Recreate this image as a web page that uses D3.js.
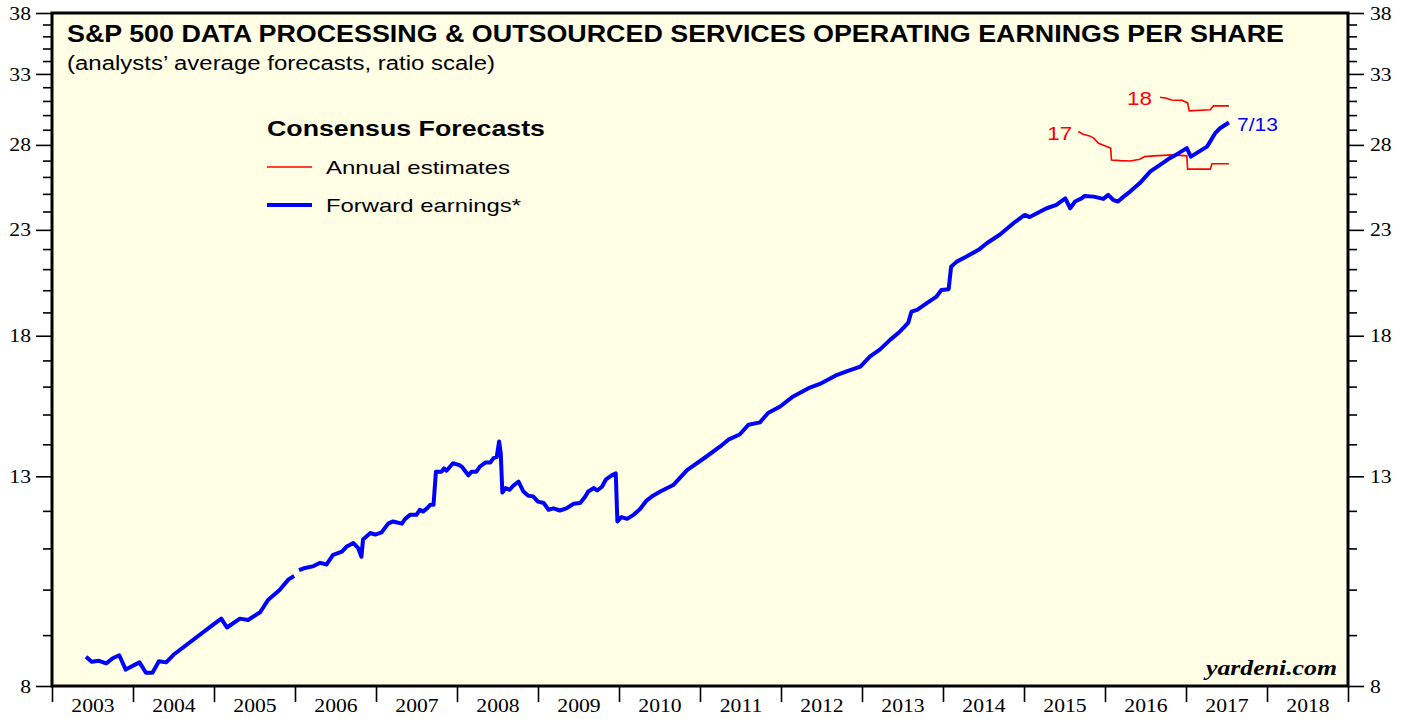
<!DOCTYPE html>
<html><head><meta charset="utf-8">
<script src="https://cdn.jsdelivr.net/npm/d3@7"></script>
<style>
body{margin:0;background:#fff;}
svg{display:block;}
</style></head><body>
<svg id="chart" width="1407" height="719"></svg>
<script>
// ---------- data ----------
const fwdDate = [2003.42, 2003.49, 2003.58, 2003.67, 2003.75, 2003.83, 2003.91, 2004.08, 2004.16, 2004.24, 2004.32, 2004.41, 2004.50,
  2004.99, 2005.09, 2005.16, 2005.32, 2005.42, 2005.57, 2005.67, 2005.81, 2005.92, 2005.99,
  2006.02,
  2006.05, 2006.10, 2006.23, 2006.31, 2006.39, 2006.47, 2006.58, 2006.64, 2006.72, 2006.78, 2006.82, 2006.84, 2006.93, 2006.99,
  2007.07, 2007.15, 2007.21, 2007.32, 2007.36, 2007.42, 2007.50, 2007.54, 2007.58, 2007.63, 2007.67, 2007.71, 2007.74, 2007.81, 2007.84, 2007.87, 2007.95,
  2008.02, 2008.06, 2008.14, 2008.18, 2008.24, 2008.28, 2008.35, 2008.41, 2008.45, 2008.49, 2008.52, 2008.54, 2008.56, 2008.60, 2008.65, 2008.69, 2008.76, 2008.82, 2008.88, 2008.94,
  2009.00, 2009.07, 2009.13, 2009.19, 2009.27, 2009.35, 2009.44, 2009.52, 2009.58, 2009.62, 2009.69, 2009.73, 2009.79, 2009.84, 2009.91, 2009.96, 2009.98,
  2010.03, 2010.10, 2010.18, 2010.26, 2010.34, 2010.42, 2010.51, 2010.67, 2010.84,
  2011.08, 2011.25, 2011.35, 2011.49, 2011.60, 2011.74, 2011.84, 2011.99,
  2012.15, 2012.34, 2012.48, 2012.67, 2012.81, 2012.98,
  2013.10, 2013.22, 2013.35, 2013.47, 2013.57, 2013.61, 2013.68, 2013.80, 2013.92, 2013.98,
  2014.07, 2014.10, 2014.17, 2014.29, 2014.44, 2014.54, 2014.70, 2014.87,
  2015.01, 2015.07, 2015.16, 2015.28, 2015.40, 2015.51, 2015.57, 2015.63, 2015.71, 2015.75, 2015.86, 2015.98,
  2016.04, 2016.10, 2016.16, 2016.23, 2016.31, 2016.43, 2016.56, 2016.68, 2016.80, 2016.91,
  2017.01, 2017.06, 2017.13, 2017.26, 2017.36, 2017.42, 2017.53];
const fwdEps = [8.56, 8.46, 8.48, 8.43, 8.53, 8.59, 8.31, 8.45, 8.25, 8.25, 8.47, 8.45, 8.60,
  9.22, 9.35, 9.16, 9.35, 9.32, 9.49, 9.77, 9.99, 10.24, 10.32,
  null,
  10.46, 10.50, 10.56, 10.64, 10.60, 10.84, 10.92, 11.05, 11.14, 11.01, 10.79, 11.23, 11.40, 11.36,
  11.42, 11.65, 11.71, 11.65, 11.78, 11.89, 11.89, 12.03, 11.98, 12.07, 12.17, 12.17, 13.14, 13.14, 13.24, 13.17, 13.40,
  13.35, 13.29, 13.03, 13.14, 13.14, 13.29, 13.42, 13.42, 13.56, 13.59, 14.09, 13.72, 12.52, 12.65, 12.60, 12.71, 12.84, 12.55, 12.43, 12.41,
  12.26, 12.22, 12.03, 12.07, 12.01, 12.07, 12.20, 12.22, 12.39, 12.55, 12.65, 12.58, 12.69, 12.91, 13.03, 13.09, 11.71,
  11.83, 11.78, 11.89, 12.05, 12.29, 12.43, 12.55, 12.74, 13.19,
  13.61, 13.93, 14.15, 14.32, 14.65, 14.73, 15.05, 15.28,
  15.64, 15.94, 16.10, 16.41, 16.57, 16.76,
  17.16, 17.43, 17.84, 18.18, 18.54, 19.03, 19.11, 19.41, 19.71, 20.01,
  20.05, 21.12, 21.37, 21.62, 21.96, 22.30, 22.74, 23.36,
  23.81, 23.69, 23.90, 24.18, 24.37, 24.74, 24.18, 24.56, 24.74, 24.88, 24.84, 24.71,
  24.94, 24.66, 24.56, 24.84, 25.13, 25.63, 26.33, 26.73, 27.15, 27.47,
  27.79, 27.25, 27.47, 27.89, 28.77, 29.10, 29.49];

const est17Date = [2015.67, 2015.73, 2015.81, 2015.86, 2015.92, 2016.02, 2016.07, 2016.08, 2016.19, 2016.31, 2016.43, 2016.49, 2016.60, 2016.84, 2017.01, 2017.02, 2017.30, 2017.32, 2017.53];
const est17Eps  = [28.88, 28.70, 28.59, 28.44, 28.11, 27.89, 27.79, 27.04, 27.00, 26.98, 27.09, 27.25, 27.30, 27.36, 27.30, 26.47, 26.47, 26.80, 26.80];

const est18Date = [2016.68, 2016.76, 2016.82, 2016.95, 2017.02, 2017.04, 2017.30, 2017.34, 2017.53];
const est18Eps  = [31.27, 31.20, 31.07, 31.04, 30.86, 30.30, 30.37, 30.65, 30.65];

const yMajor = [8, 13, 18, 23, 28, 33, 38];
const yMinor = [9, 10, 11, 12, 14, 15, 16, 17, 19, 20, 21, 22, 24, 25, 26, 27, 29, 30, 31, 32, 34, 35, 36, 37];
const yearTicks = [2003, 2004, 2005, 2006, 2007, 2008, 2009, 2010, 2011, 2012, 2013, 2014, 2015, 2016, 2017, 2018, 2019];
const yearLabels = ["2003", "2004", "2005", "2006", "2007", "2008", "2009", "2010", "2011", "2012", "2013", "2014", "2015", "2016", "2017", "2018"];

const titleText = "S&P 500 DATA PROCESSING & OUTSOURCED SERVICES OPERATING EARNINGS PER SHARE";
const subtitleText = "(analysts\u2019 average forecasts, ratio scale)";
const legendTitle = "Consensus Forecasts";
const legendItems = ["Annual estimates", "Forward earnings*"];
const endLabel = "7/13";
const label17 = "17", label18 = "18";
const sourceText = "yardeni.com";

// ---------- layout ----------
const L = 52, R = 1348, T = 13, B = 686;
const RED = "#ff0000", BLUE = "#0000ff";
const SANS = "'Liberation Sans', Arial, Helvetica, sans-serif";
const SERIF = "'Liberation Serif', 'Times New Roman', Times, serif";
const WIDEN = 1.14;   // reference glyphs are horizontally wider than the installed fonts

const svg = d3.select("#chart");
const x = d3.scaleLinear().domain([2003, 2019]).range([L, R]);
const y = d3.scaleLog().domain([8, 38]).range([B, T]);

function fit(sel, w) {
  sel.attr("textLength", w).attr("lengthAdjust", "spacingAndGlyphs");
  return sel;
}

svg.append("rect").attr("x", L).attr("y", T).attr("width", R - L).attr("height", B - T)
  .attr("fill", "#ffffe6");

function styleAxis(g, fs) {
  g.select(".domain").remove();
  g.selectAll(".tick line").attr("stroke", "#000").attr("stroke-width", 1.6);
  g.selectAll(".tick text").attr("fill", "#000").style("font-family", SERIF).style("font-size", fs + "px")
    .each(function () {
      const w = this.getComputedTextLength();
      if (w > 0) fit(d3.select(this), w * WIDEN);
    });
}

// left axis
svg.append("g").attr("transform", `translate(${L},0)`)
  .call(d3.axisLeft(y).tickValues(yMinor).tickSize(9).tickFormat(""))
  .call(g => styleAxis(g, 19));
svg.append("g").attr("transform", `translate(${L},0)`)
  .call(d3.axisLeft(y).tickValues(yMajor).tickSize(16).tickPadding(5).tickFormat(d3.format("d")))
  .call(g => styleAxis(g, 19));
// right axis
svg.append("g").attr("transform", `translate(${R},0)`)
  .call(d3.axisRight(y).tickValues(yMinor).tickSize(9).tickFormat(""))
  .call(g => styleAxis(g, 19));
svg.append("g").attr("transform", `translate(${R},0)`)
  .call(d3.axisRight(y).tickValues(yMajor).tickSize(16).tickPadding(6).tickFormat(d3.format("d")))
  .call(g => styleAxis(g, 19));
// bottom axis: year boundary ticks + centered labels
svg.append("g").attr("transform", `translate(0,${B})`)
  .call(d3.axisBottom(x).tickValues(yearTicks).tickSize(16).tickFormat(""))
  .call(g => styleAxis(g, 19));
svg.append("g").attr("transform", `translate(0,${B})`)
  .call(d3.axisBottom(x).tickValues(yearLabels.map(d => +d + 0.5)).tickSize(0).tickPadding(13)
    .tickFormat((d, i) => yearLabels[i]))
  .call(g => styleAxis(g, 19));

// frame
svg.append("rect").attr("x", L).attr("y", T).attr("width", R - L).attr("height", B - T)
  .attr("fill", "none").attr("stroke", "#000").attr("stroke-width", 3);

// title
fit(svg.append("text").attr("x", 67).attr("y", 42).text(titleText)
  .style("font-family", SANS).style("font-weight", "bold").style("font-size", "24px"), 1217);
fit(svg.append("text").attr("x", 67).attr("y", 70).text(subtitleText)
  .style("font-family", SANS).style("font-size", "20px"), 428);

// legend
fit(svg.append("text").attr("x", 267).attr("y", 136).text(legendTitle)
  .style("font-family", SANS).style("font-weight", "bold").style("font-size", "22px"), 278);
const legColors = [RED, BLUE], legWidths = [1.6, 4], legY = [167, 205], legW = [184, 195];
legendItems.forEach((t, i) => {
  svg.append("line").attr("x1", 267).attr("x2", 312).attr("y1", legY[i]).attr("y2", legY[i])
    .attr("stroke", legColors[i]).attr("stroke-width", legWidths[i]);
  fit(svg.append("text").attr("x", 326).attr("y", legY[i] + 7).text(t)
    .style("font-family", SANS).style("font-size", "19px"), legW[i]);
});

// lines
const line = d3.line().defined(d => d[1] != null).x(d => x(d[0])).y(d => y(d[1]));
const fwd = fwdDate.map((d, i) => [d, fwdEps[i]]);
const e17 = est17Date.map((d, i) => [d, est17Eps[i]]);
const e18 = est18Date.map((d, i) => [d, est18Eps[i]]);

svg.append("path").datum(e17).attr("d", line).attr("fill", "none").attr("stroke", RED).attr("stroke-width", 1.6);
svg.append("path").datum(e18).attr("d", line).attr("fill", "none").attr("stroke", RED).attr("stroke-width", 1.6);
svg.append("path").datum(fwd).attr("d", line).attr("fill", "none").attr("stroke", BLUE).attr("stroke-width", 4)
  .attr("stroke-linejoin", "round");

// series labels
fit(svg.append("text").attr("x", x(e17[0][0]) - 6).attr("y", y(e17[0][1]) + 8).attr("text-anchor", "end")
  .text(label17).attr("fill", RED).style("font-family", SANS).style("font-size", "19px"), 25);
fit(svg.append("text").attr("x", x(e18[0][0]) - 8).attr("y", y(e18[0][1]) + 8).attr("text-anchor", "end")
  .text(label18).attr("fill", RED).style("font-family", SANS).style("font-size", "19px"), 25);
const last = fwd[fwd.length - 1];
fit(svg.append("text").attr("x", x(last[0]) + 8).attr("y", y(last[1]) + 8)
  .text(endLabel).attr("fill", BLUE).style("font-family", SANS).style("font-size", "19px"), 41);

// source
fit(svg.append("text").attr("x", 1337).attr("y", 675).attr("text-anchor", "end").text(sourceText)
  .style("font-family", SERIF).style("font-weight", "bold").style("font-style", "italic").style("font-size", "21px"), 131);
</script>
</body></html>
